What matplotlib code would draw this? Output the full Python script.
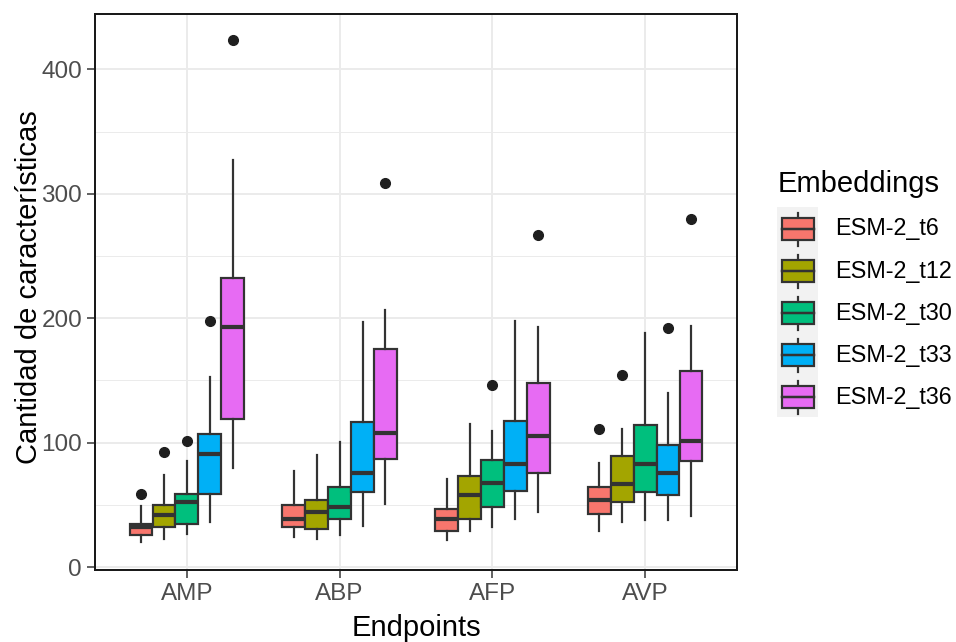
import matplotlib
matplotlib.use("Agg")
import matplotlib.pyplot as plt
from matplotlib.patches import Rectangle
import numpy as np

plt.rcParams['font.family'] = ['Liberation Sans', 'DejaVu Sans']

endpoints = ["AMP", "ABP", "AFP", "AVP"]
series = ["ESM-2_t6", "ESM-2_t12", "ESM-2_t30", "ESM-2_t33", "ESM-2_t36"]
colors = ["#F8766D", "#A3A500", "#00BF7D", "#00B0F6", "#E76BF3"]

# per-series box statistics, one value per endpoint (AMP, ABP, AFP, AVP)
t6_whislo = [20, 24, 22, 29]
t6_q1 = [26, 32, 29, 42.5]
t6_med = [32, 38.5, 39, 53.7]
t6_q3 = [35, 50, 47, 64.7]
t6_whishi = [49, 77, 70.5, 84]
t6_fliers = [[58.5], [], [], [111.4]]

t12_whislo = [23, 23, 29, 36]
t12_q1 = [32, 31, 39, 52.6]
t12_med = [42, 44, 58, 66.5]
t12_q3 = [50, 54, 73, 89]
t12_whishi = [74, 90, 115, 111]
t12_fliers = [[92.5], [], [], [154]]

t30_whislo = [27, 26, 32, 38]
t30_q1 = [35, 38.5, 48.6, 60]
t30_med = [52, 48, 68, 83]
t30_q3 = [58.5, 64.4, 86, 114]
t30_whishi = [85, 100.5, 109, 188]
t30_fliers = [[101], [], [146.7], []]

t33_whislo = [36, 33, 39, 38]
t33_q1 = [59, 60, 61.5, 57.7]
t33_med = [90.6, 76, 83, 76]
t33_q3 = [107, 117, 117.6, 98]
t33_whishi = [153, 197, 198, 140]
t33_fliers = [[198], [], [], [192]]

t36_whislo = [80, 51, 44, 41]
t36_q1 = [119, 86.6, 76, 85]
t36_med = [193, 108, 105, 101]
t36_q3 = [232, 175, 148, 158]
t36_whishi = [327, 207, 193, 194]
t36_fliers = [[424], [309], [267], [280]]

yticks = [0, 100, 200, 300, 400]

stats_all = [
    (t6_whislo, t6_q1, t6_med, t6_q3, t6_whishi, t6_fliers),
    (t12_whislo, t12_q1, t12_med, t12_q3, t12_whishi, t12_fliers),
    (t30_whislo, t30_q1, t30_med, t30_q3, t30_whishi, t30_fliers),
    (t33_whislo, t33_q1, t33_med, t33_q3, t33_whishi, t33_fliers),
    (t36_whislo, t36_q1, t36_med, t36_q3, t36_whishi, t36_fliers),
]

W, H = 956, 642
fig = plt.figure(figsize=(W / 100, H / 100), dpi=100)
L, R, T, B = 95, 737, 14, 570
ax = fig.add_axes([L / W, 1 - B / H, (R - L) / W, (B - T) / H])

edge = "#333333"
lw_px = 0.72
dodge = 0.75
nser = len(series)
bw = dodge / nser
for si, (wl, q1, md, q3, wh, fl) in enumerate(stats_all):
    offs = -dodge / 2 + bw * (si + 0.5)
    stats = []
    for gi in range(len(endpoints)):
        stats.append(dict(whislo=wl[gi], q1=q1[gi], med=md[gi], q3=q3[gi],
                          whishi=wh[gi], fliers=fl[gi]))
    pos = np.arange(1, len(endpoints) + 1) + offs
    ax.bxp(stats, positions=pos, widths=bw * 0.98, patch_artist=True,
           showcaps=False, manage_ticks=False,
           boxprops=dict(facecolor=colors[si], edgecolor=edge, linewidth=2.2 * lw_px),
           whiskerprops=dict(color=edge, linewidth=2.2 * lw_px),
           medianprops=dict(color=edge, linewidth=4.2 * lw_px, solid_capstyle='butt'),
           flierprops=dict(marker='o', markerfacecolor='#1f1f1f', markeredgecolor='#1f1f1f',
                           markersize=7))

ax.set_xlim(0.4, 4.6)
ax.set_ylim(-2.3, 444.5)
ax.set_xticks(np.arange(1, len(endpoints) + 1))
ax.set_xticklabels(endpoints)
ax.set_yticks(yticks)
ax.set_yticks([50, 150, 250, 350], minor=True)
ax.grid(True, which='major', color='#EBEBEB', linewidth=2.0 * lw_px, zorder=0)
ax.grid(True, which='minor', axis='y', color='#EBEBEB', linewidth=1.0 * lw_px, zorder=0)
ax.set_axisbelow(True)
ax.tick_params(which='major', length=5.8, width=1.5 * lw_px, color=edge,
               labelsize=17.5, labelcolor='#4D4D4D', pad=3.5)
ax.tick_params(which='minor', length=0)
for s in ax.spines.values():
    s.set_color('#1a1a1a')
    s.set_linewidth(2.0 * lw_px)

fig.text(416 / W, 1 - 636 / H, "Endpoints", ha='center', va='baseline', fontsize=21, color='black')
fig.text(29 / W, 1 - 287 / H, "Cantidad de características", ha='center', va='center',
         rotation=90, fontsize=21, color='black')

# legend
lax = fig.add_axes([0, 0, 1, 1])
lax.set_xlim(0, W)
lax.set_ylim(H, 0)
lax.axis('off')
lax.text(778, 192, "Embeddings", ha='left', va='baseline', fontsize=21, color='black')
lax.add_patch(Rectangle((777, 207), 41, 210, facecolor='#F2F2F2', edgecolor='none'))
for i, (name, c) in enumerate(zip(series, colors)):
    cy = 229 + i * 42.1
    lax.plot([798, 798], [cy - 16.5, cy + 16.5], color=edge, lw=2.2 * lw_px, zorder=2)
    lax.add_patch(Rectangle((782, cy - 11), 32, 22, facecolor=c, edgecolor=edge,
                            lw=2.2 * lw_px, zorder=3))
    lax.plot([782, 814], [cy, cy], color=edge, lw=2.5 * lw_px, zorder=4)
    lax.text(835, cy, name, ha='left', va='center', fontsize=16.8, color='black')

fig.savefig("out.png", dpi=100)
